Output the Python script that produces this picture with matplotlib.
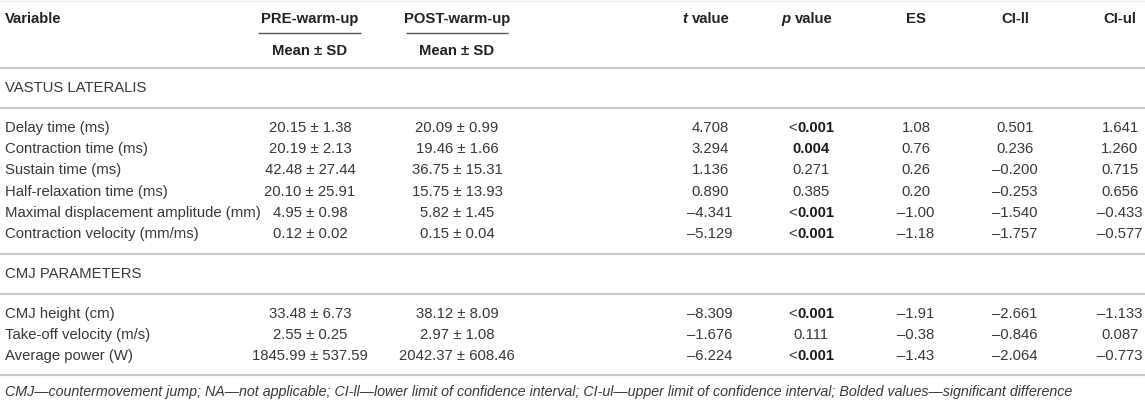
import matplotlib
matplotlib.use("Agg")
import matplotlib.pyplot as plt

plt.rcParams['font.family'] = ['Liberation Sans', 'DejaVu Sans']

# table data
columns = ["Variable", "PRE-warm-up", "POST-warm-up", "t value", "p value", "ES", "CI-ll", "CI-ul"]
sections = ["VASTUS LATERALIS", "CMJ PARAMETERS"]

vl_vars = ["Delay time (ms)", "Contraction time (ms)", "Sustain time (ms)",
           "Half-relaxation time (ms)", "Maximal displacement amplitude (mm)",
           "Contraction velocity (mm/ms)"]
vl_pre_mean = [20.15, 20.19, 42.48, 20.10, 4.95, 0.12]
vl_pre_sd = [1.38, 2.13, 27.44, 25.91, 0.98, 0.02]
vl_post_mean = [20.09, 19.46, 36.75, 15.75, 5.82, 0.15]
vl_post_sd = [0.99, 1.66, 15.31, 13.93, 1.45, 0.04]
vl_t = [4.708, 3.294, 1.136, 0.890, -4.341, -5.129]
vl_p = ["<0.001", "0.004", "0.271", "0.385", "<0.001", "<0.001"]
vl_es = [1.08, 0.76, 0.26, 0.20, -1.00, -1.18]
vl_ci_ll = [0.501, 0.236, -0.200, -0.253, -1.540, -1.757]
vl_ci_ul = [1.641, 1.260, 0.715, 0.656, -0.433, -0.577]

cmj_vars = ["CMJ height (cm)", "Take-off velocity (m/s)", "Average power (W)"]
cmj_pre_mean = [33.48, 2.55, 1845.99]
cmj_pre_sd = [6.73, 0.25, 537.59]
cmj_post_mean = [38.12, 2.97, 2042.37]
cmj_post_sd = [8.09, 1.08, 608.46]
cmj_t = [-8.309, -1.676, -6.224]
cmj_p = ["<0.001", "0.111", "<0.001"]
cmj_es = [-1.91, -0.38, -1.43]
cmj_ci_ll = [-2.661, -0.846, -2.064]
cmj_ci_ul = [-1.133, 0.087, -0.773]

footnote = ("CMJ\u2014countermovement jump; NA\u2014not applicable; CI-ll\u2014lower limit of confidence "
            "interval; CI-ul\u2014upper limit of confidence interval; Bolded values\u2014significant difference")

W, H = 1145, 400
fig = plt.figure(figsize=(W / 100, H / 100), dpi=100)
ax = fig.add_axes([0, 0, 1, 1])
ax.set_xlim(0, W)
ax.set_ylim(H, 0)
ax.axis('off')
renderer = fig.canvas.get_renderer()

txt = '#383838'
head = '#222222'
rule = '#c9c9c9'
fs = 10.7
base = 4.0  # centre -> baseline offset in px

col_x = [5, 310, 457, 710, 811, 916, 1015, 1120]


def fmt(v, d):
    s = f"{abs(v):.{d}f}"
    return ("\u2013" + s) if v < 0 else s


def hline(y, x0=0, x1=W, c=rule, lw=1.6):
    ax.plot([x0, x1], [y, y], color=c, lw=lw, solid_capstyle='butt')


def put(x, y, s, ha='center', **kw):
    kw.setdefault('color', txt)
    return ax.text(x, y + base, s, ha=ha, va='baseline', fontsize=fs, **kw)


def put_parts(x, y, parts, gap=0):
    # parts: list of (string, kwargs); drawn side by side, centred on x
    objs = [ax.text(0, y + base, s, ha='left', va='baseline', fontsize=fs, **kw) for s, kw in parts]
    widths = [o.get_window_extent(renderer).width for o in objs]
    total = sum(widths) + gap * (len(objs) - 1)
    cur = x - total / 2
    for o, w in zip(objs, widths):
        o.set_x(cur)
        cur += w + gap


# header
hline(0.5, c='#efefef', lw=1)
put(col_x[0], 19, columns[0], ha='left', fontweight='bold', color=head)
for i in (1, 2, 5, 6, 7):
    put(col_x[i], 19, columns[i], fontweight='bold', color=head)
for i in (3, 4):
    first, rest = columns[i].split(' ', 1)
    put_parts(col_x[i] - 4, 19, [(first, dict(fontweight='bold', style='italic', color=head)),
                                 (rest, dict(fontweight='bold', color=head))], gap=4)
hline(33, 258, 361, c='#555555', lw=1.0)
hline(33, 406, 508, c='#555555', lw=1.0)
for x in col_x[1:3]:
    put(x, 51, "Mean \u00b1 SD", fontweight='bold', color=head)
hline(68)


def draw_block(y0, title, names, pm, ps, qm, qs, tv, pv, es, ll, ul, step=21.2):
    put(col_x[0], y0, title, ha='left')
    hline(y0 + 19.5)
    y = y0 + 40
    for k in range(len(names)):
        yy = y + k * step
        put(col_x[0], yy, names[k], ha='left')
        put(col_x[1], yy, f"{pm[k]:.2f} \u00b1 {ps[k]:.2f}")
        put(col_x[2], yy, f"{qm[k]:.2f} \u00b1 {qs[k]:.2f}")
        put(col_x[3], yy, fmt(tv[k], 3))
        p = pv[k]
        if float(p.lstrip('<')) < 0.05:
            parts = []
            if p.startswith('<'):
                parts.append(("<", dict(color=txt)))
            parts.append((p.lstrip('<'), dict(fontweight='bold', color='#1a1a1a')))
            put_parts(col_x[4], yy, parts)
        else:
            put(col_x[4], yy, p)
        put(col_x[5], yy, fmt(es[k], 2))
        put(col_x[6], yy, fmt(ll[k], 3))
        put(col_x[7], yy, fmt(ul[k], 3))
    return y + (len(names) - 1) * step


end1 = draw_block(88, sections[0], vl_vars, vl_pre_mean, vl_pre_sd, vl_post_mean, vl_post_sd,
                  vl_t, vl_p, vl_es, vl_ci_ll, vl_ci_ul)
hline(end1 + 20)
end2 = draw_block(274, sections[1], cmj_vars, cmj_pre_mean, cmj_pre_sd, cmj_post_mean, cmj_post_sd,
                  cmj_t, cmj_p, cmj_es, cmj_ci_ll, cmj_ci_ul)
hline(end2 + 19)

ax.text(col_x[0], 392 + base, footnote, ha='left', va='baseline', fontsize=fs - 0.4,
        style='italic', color=txt)

fig.savefig('out.png', dpi=100)
